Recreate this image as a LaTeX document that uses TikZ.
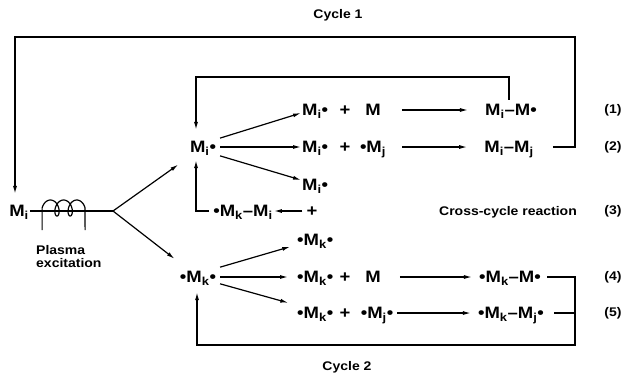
\documentclass[tikz,border=0pt]{standalone}
\usepackage{fontspec}
\setmainfont{Liberation Sans}[FakeStretch=1.12]
\usetikzlibrary{arrows.meta, positioning}

\newcommand{\rb}{\textbullet}
\newcommand{\subx}[1]{\textsubscript{#1}}

\tikzset{
  chem/.style={font=\fontsize{16.5}{18}\selectfont\bfseries, inner sep=1pt,
    text height=11.8pt, text depth=0pt},
  lab/.style={font=\fontsize{12.5}{14}\selectfont\bfseries, inner sep=1pt},
  ln/.style={line width=1.2pt},
  arr/.style={ln, -{Latex[length=8pt,width=4pt]}},
}

\begin{document}
\begin{tikzpicture}[x=1pt, y=-1pt]
    \useasboundingbox (0,0) rectangle (623,373);
    % 标题
    \node[lab] (cyc1) at (338,15) {Cycle 1};
    \node[lab] (cyc2) at (347,367) {Cycle 2};

    % 单体与等离子体激发
    \node[chem] (m0) at (19,211) {M\subx{i}};
    \coordinate (br) at (113,211);
    \draw[ln] (m0.east) -- (br);
    \draw[ln] (42.1,230) -- plot[smooth, domain=-4.712:10.996, samples=100, variable=\t]
      ({57+2.1*\t-5*sin(\t r)}, {208+8*cos(\t r)}) -- (85.1,230);
    \node[lab, anchor=west] (pl1) at (35,250) {Plasma};
    \node[lab, anchor=west] (pl2) at (35,263) {excitation};

    % 自由基
    \node[chem] (mir) at (203,147) {M\subx{i}\rb};
    \node[chem] (mkr) at (198,277) {\rb M\subx{k}\rb};
    \draw[arr, shorten >=18pt] (br) -- (mir);
    \draw[arr, shorten >=18pt] (br) -- (mkr);

    % 循环 1
    \node[chem, anchor=west] (a1) at (301,110) {M\subx{i}\rb};
    \node[chem] (p1) at (345,110) {+};
    \node[chem] (b1) at (373,110) {M};
    \node[chem] (c1) at (511,110) {M\subx{i}--M\rb};
    \node[chem, anchor=west] (a2) at (301,147) {M\subx{i}\rb};
    \node[chem] (p2) at (345,147) {+};
    \node[chem] (b2) at (373,147) {\rb M\subx{j}};
    \node[chem] (c2) at (509,147) {M\subx{i}--M\subx{j}};
    \node[chem, anchor=west] (a3) at (301,185) {M\subx{i}\rb};

    \draw[arr, shorten <=3pt] ([yshift=8pt]mir.east) -- ([yshift=-3pt]a1.west);
    \draw[arr, shorten <=3pt] (mir.east) -- (a2.west);
    \draw[arr, shorten <=3pt] ([yshift=-8pt]mir.east) -- ([yshift=5pt]a3.west);
    \draw[arr, shorten <=20pt, shorten >=16pt] (b1.east) -- (b1.east -| c1.west);
    \draw[arr, shorten <=15pt, shorten >=16pt] (b2.east) -- (b2.east -| c2.west);

    \coordinate (i1) at (509,77);
    \coordinate (i2) at (196,77);
    \draw[arr, shorten <=3pt, shorten >=10pt] (c1.north -| i1) -- (i1) -- (i2) -- (i2 |- mir.north);

    \coordinate (o1) at (575,37);
    \coordinate (o2) at (15,37);
    \draw[arr, shorten <=18pt, shorten >=10pt] (c2.east) -- (c2.east -| o1) -- (o1) -- (o2) -- (o2 |- m0.north);

    % 交叉反应
    \node[chem] (p3) at (312,211) {+};
    \node[chem] (d3) at (243,211) {\rb M\subx{k}--M\subx{i}};
    \node[lab] (cross) at (508,212) {Cross-cycle reaction};
    \draw[arr, shorten <=3pt] (p3.west) -- (p3.west -| d3.east);
    \coordinate (x1) at (196,211);
    \draw[arr, shorten <=3pt, shorten >=6pt] (d3.west) -- (x1) -- (x1 |- mir.south);

    % 循环 2
    \node[chem, anchor=west] (a4u) at (296,240) {\rb M\subx{k}\rb};
    \node[chem, anchor=west] (a4) at (296,277) {\rb M\subx{k}\rb};
    \node[chem] (p4) at (345,277) {+};
    \node[chem] (b4) at (373,277) {M};
    \node[chem] (c4) at (510,277) {\rb M\subx{k}--M\rb};
    \node[chem, anchor=west] (a5) at (296,313) {\rb M\subx{k}\rb};
    \node[chem] (p5) at (345,313) {+};
    \node[chem] (b5) at (377,313) {\rb M\subx{j}\rb};
    \node[chem] (c5) at (511,313) {\rb M\subx{k}--M\subx{j}\rb};

    \draw[arr, shorten <=3pt, shorten >=6pt] ([yshift=9pt]mkr.east) -- ([yshift=-5pt]a4u.west);
    \draw[arr, shorten <=3pt, shorten >=8pt] (mkr.east) -- (mkr.east -| a4.west);
    \draw[arr, shorten <=3pt, shorten >=8pt] ([yshift=-6pt]mkr.east) -- ([yshift=8pt]a5.west);
    \draw[arr, shorten <=18pt, shorten >=6pt] (b4.east) -- (b4.east -| c4.west);
    \draw[arr, shorten <=3pt, shorten >=6pt] (b5.east) -- (b5.east -| c5.west);

    \coordinate (o3) at (575,345);
    \coordinate (o4) at (197,345);
    \draw[arr, shorten <=5pt, shorten >=8pt] (c4.east) -- (c4.east -| o3) -- (o3) -- (o4) -- (o4 |- mkr.south);
    \draw[ln, shorten <=9pt] (c5.east) -- (c5.east -| o3);

    % 编号
    \node[lab] (n1) at (613,110) {(1)};
    \node[lab] (n2) at (613,147) {(2)};
    \node[lab] (n3) at (613,211) {(3)};
    \node[lab] (n4) at (613,277) {(4)};
    \node[lab] (n5) at (613,313) {(5)};
\end{tikzpicture}
\end{document}
